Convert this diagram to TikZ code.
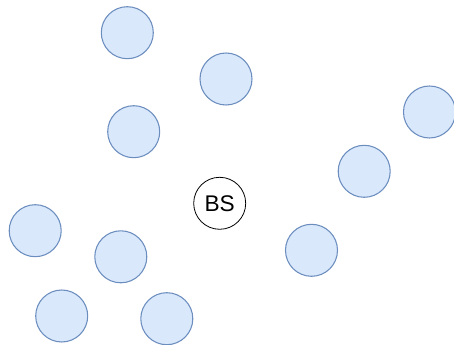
\documentclass[tikz,border=0pt]{standalone}
\usepackage{fontspec}
\setmainfont{Liberation Sans}
\usetikzlibrary{positioning}

\definecolor{uefill}{HTML}{DAE8FC}
\definecolor{uedraw}{HTML}{6C8EBF}

\begin{document}
\begin{tikzpicture}[
    x=0.75pt,
    y=-0.75pt,
    font=\fontsize{17}{20}\selectfont,
    user/.style={
        circle,
        draw=uedraw,
        fill=uefill,
        line width=0.8pt,
        minimum size=39pt,
        inner sep=0pt
    },
    station/.style={
        circle,
        draw=black,
        fill=white,
        line width=0.6pt,
        minimum size=39pt,
        inner sep=0pt
    }
]

\useasboundingbox (0,0) rectangle (454,345);

% Base station
\node[station] (bs) at (219.7,203.3) {BS};

% Users
\node[user] (u1) at (127.3,32.7) {};
\node[user] (u2) at (226,79) {};
\node[user] (u3) at (133.7,131.7) {};
\node[user] (u4) at (429.5,112) {};
\node[user] (u5) at (364.2,171.3) {};
\node[user] (u6) at (35.2,230.7) {};
\node[user] (u7) at (120.8,256.8) {};
\node[user] (u8) at (311.5,250.3) {};
\node[user] (u9) at (61.7,316) {};
\node[user] (u10) at (166.8,318.7) {};

\end{tikzpicture}
\end{document}
